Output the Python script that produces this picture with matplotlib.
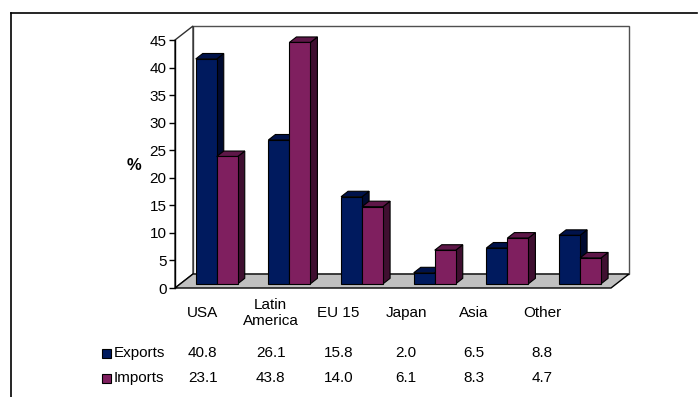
import matplotlib
matplotlib.use("Agg")
import matplotlib.pyplot as plt
from matplotlib.patches import Polygon, Rectangle
from matplotlib.lines import Line2D

plt.rcParams['font.family'] = ['Liberation Sans', 'DejaVu Sans']

categories = ["USA", "Latin\nAmerica", "EU 15", "Japan", "Asia", "Other"]
series_names = ["Exports", "Imports"]
exports = [40.8, 26.1, 15.8, 2.0, 6.5, 8.8]
imports = [23.1, 43.8, 14.0, 6.1, 8.3, 4.7]
yticks = [0, 5, 10, 15, 20, 25, 30, 35, 40, 45]

W, H = 699, 397
FS = 11
fig = plt.figure(figsize=(W / 100, H / 100), dpi=100)

# frame
fig.add_artist(Line2D([11 / W, 697 / W], [1 - 13 / H, 1 - 13 / H], color='black', lw=1.2))
fig.add_artist(Line2D([11 / W, 11 / W], [1 - 13 / H, 0], color='black', lw=1.2))

# axes = front plane of 3D box
ax_l, ax_r, ax_t, ax_b = 175, 611, 40, 288
ax = fig.add_axes([ax_l / W, 1 - ax_b / H, (ax_r - ax_l) / W, (ax_b - ax_t) / H])
ax.set_xlim(0, len(categories))
ax.set_ylim(0, 45)
ax.patch.set_visible(False)
for s in ['top', 'right', 'bottom']:
    ax.spines[s].set_visible(False)
ax.spines['left'].set_linewidth(1.0)
ax.spines['left'].set_zorder(10)
ax.set_xticks([])
ax.set_yticks(yticks)
ax.tick_params(axis='y', length=4, width=1, labelsize=FS, pad=2)

# oblique depth vector in data units
DX = 18 / ((ax_r - ax_l) / len(categories))
DY = 14 / ((ax_b - ax_t) / 45)


def P(x, y, f):
    return (x + f * DX, y + f * DY)


def poly(pts, fc, ec='black', lw=0.8, z=1):
    ax.add_patch(Polygon(pts, closed=True, facecolor=fc, edgecolor=ec, lw=lw,
                         clip_on=False, zorder=z, joinstyle='miter'))


n = len(categories)
# walls
poly([P(0, 0, 1), P(n, 0, 1), P(n, 45, 1), P(0, 45, 1)], 'white', ec='#505050', lw=1.0, z=1)
poly([P(0, 0, 0), P(0, 0, 1), P(0, 45, 1), P(0, 45, 0)], 'white', ec='#303030', lw=1.0, z=1)
# floor
poly([P(0, 0, 0), P(n, 0, 0), P(n, 0, 1), P(0, 0, 1)], '#C0C0C0', ec='black', lw=1.0, z=2)

colors = {
    0: dict(front='#001A5E', top='#00124A', side='#000A30'),
    1: dict(front='#7F1F5F', top='#5E1748', side='#3F0F30'),
}
w = 0.289
f0, f1 = 0.30, 0.69
z = 3
for i in range(n):
    for s, vals in enumerate([exports, imports]):
        v = vals[i]
        x0 = i + 0.5 + (s - 1) * w
        x1 = x0 + w
        c = colors[s]
        poly([P(x1, 0, f0), P(x1, v, f0), P(x1, v, f1), P(x1, 0, f1)], c['side'], z=z)
        poly([P(x0, v, f0), P(x1, v, f0), P(x1, v, f1), P(x0, v, f1)], c['top'], z=z)
        poly([P(x0, 0, f0), P(x1, 0, f0), P(x1, v, f0), P(x0, v, f0)], c['front'], z=z)
        z += 1

# y label
fig.text(134 / W, 1 - 165 / H, "%", fontsize=12, fontweight='bold', ha='center', va='center')

# data table
col0, colw = 169, 67.8
for i, cat in enumerate(categories):
    cx = (col0 + (i + 0.5) * colw) / W
    fig.text(cx, 1 - 313 / H, cat, fontsize=FS, ha='center', va='center', linespacing=1.2)
    fig.text(cx, 1 - 353 / H, f"{exports[i]:.1f}", fontsize=FS, ha='center', va='center')
    fig.text(cx, 1 - 378 / H, f"{imports[i]:.1f}", fontsize=FS, ha='center', va='center')

for r, (name, yy) in enumerate(zip(series_names, [353, 378])):
    fig.add_artist(Rectangle((102 / W, 1 - (yy + 4.5) / H), 9 / W, 9 / H,
                             facecolor=colors[r]['front'], edgecolor='black', lw=0.8))
    fig.text(114 / W, 1 - yy / H, name, fontsize=FS, ha='left', va='center')

fig.savefig("out.png", dpi=100)
